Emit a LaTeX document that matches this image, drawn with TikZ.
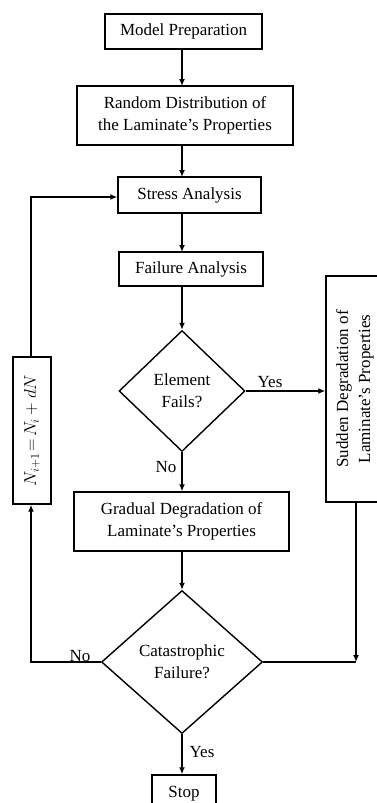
\documentclass[tikz,border=0pt]{standalone}
\usepackage{fontspec}
\setmainfont{Liberation Serif}
\usetikzlibrary{shapes.geometric,arrows.meta}
\begin{document}
\begin{tikzpicture}[x=1pt,y=-1pt,
  txt/.style={font=\fontsize{17}{22}\selectfont},
  box/.style={txt, draw, line width=1.4pt, inner sep=2pt, align=center},
  dia/.style={txt, draw, diamond, line width=1.4pt, inner sep=0pt, align=center},
  arr/.style={line width=1.6pt, -{Latex[length=7pt,width=6pt]}},
  ln/.style={line width=1.6pt},
  lbl/.style={txt, inner sep=1pt}]
\useasboundingbox (0,0) rectangle (377,803);
\node[box, minimum width=157pt, minimum height=35pt] (mp) at (183.5,31.5) {Model Preparation};
\node[box, minimum width=216pt, minimum height=59pt] (rd) at (185,115.5) {Random Distribution of\\the Laminate's Properties};
\node[box, minimum width=143pt, minimum height=36pt] (sa) at (189.5,195) {Stress Analysis};
\node[box, minimum width=144pt, minimum height=34pt] (fa) at (191,269) {Failure Analysis};
\node[dia, minimum width=126pt, minimum height=121pt] (d1) at (182,391) {Element\\Fails?};
\node[box, rotate=90, minimum width=226pt, minimum height=58pt] (sd) at (355,389) {Sudden Degradation of\\Laminate's Properties};
\node[box, rotate=90, minimum width=147pt, minimum height=38pt] (ni) at (32,430.5) {$N_{i+1}\!=\!N_i + dN$};
\node[box, minimum width=215pt, minimum height=59pt] (gd) at (181.5,521.5) {Gradual Degradation of\\Laminate's Properties};
\node[dia, minimum width=161pt, minimum height=143pt] (d2) at (182,662) {Catastrophic\\Failure?};
\node[box, minimum width=64pt, minimum height=37pt] (st) at (184,793.5) {Stop};
\coordinate (c1) at (356,662);
\coordinate (c2) at (31,662);
\coordinate (c3) at (31,197);
\draw[arr] (182,49) -- (182,86);
\draw[arr] (182,145) -- (182,177);
\draw[arr] (182,213) -- (182,252);
\draw[arr] (182,286) -- (d1.north);
\draw[arr] (d1.east) -- (d1.east -| sd.north);
\draw[arr] (d1.south) -- (d1.south |- gd.north);
\draw[arr] (d1.south |- gd.south) -- (d2.north);
\draw[arr] (d2.south) -- (d2.south |- st.north);
\draw[arr] (c1 |- sd.west) -- (c1);
\draw[ln] (d2.east) -- (c1);
\draw[arr] (d2.west) -- (c2) -- (c2 |- ni.west);
\draw[arr] (c3 |- ni.east) -- (c3) -- (sa.west |- c3);
\node[lbl] (y1) at (270,382) {Yes};
\node[lbl] (n1) at (166,467) {No};
\node[lbl] (n2) at (80,656) {No};
\node[lbl] (y2) at (202,752) {Yes};
\end{tikzpicture}
\end{document}
